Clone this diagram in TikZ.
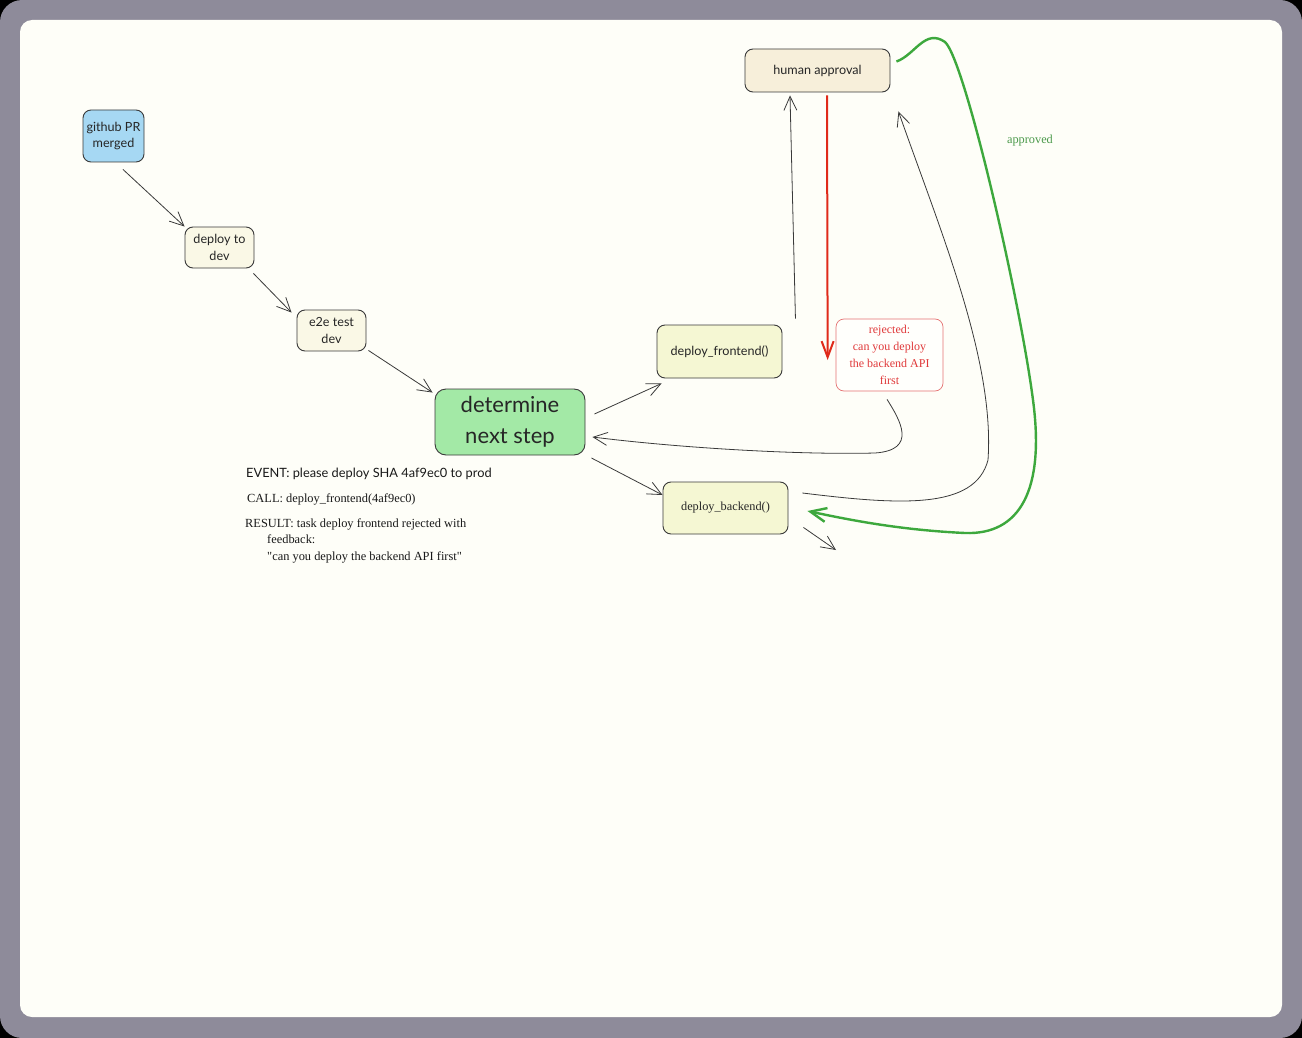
\documentclass[tikz,border=0pt]{standalone}
\usepackage{fontspec}
\setmainfont{Liberation Serif}
\newfontfamily\uisans{Lato}
\usetikzlibrary{arrows.meta,calc}

\definecolor{frame}{HTML}{8E8B9A}
\definecolor{panel}{HTML}{FEFEF8}
\definecolor{edge}{HTML}{3A3A3A}
\definecolor{ghfill}{HTML}{A6D8F3}
\definecolor{creamfill}{HTML}{FAF8E6}
\definecolor{detfill}{HTML}{A3E9A6}
\definecolor{fnfill}{HTML}{F5F7D3}
\definecolor{hafill}{HTML}{F7EFDA}
\definecolor{rejline}{HTML}{E57373}
\definecolor{rejtext}{HTML}{E0393A}
\definecolor{okgreen}{HTML}{3DA83D}
\definecolor{oktext}{HTML}{4C9A4C}
\definecolor{redline}{HTML}{E02A1A}

\newcommand{\straightq}{{\addfontfeature{Ligatures=TeXOff}"}}

\tikzset{
  box/.style={draw=edge, line width=0.9pt, rounded corners=8pt, align=center,
    inner sep=0pt, text=black!85},
  sanstxt/.style={font=\uisans\fontsize{12.6}{16.5}\selectfont},
  seriftxt/.style={font=\fontsize{12.3}{16.5}\selectfont},
  arr/.style={draw=edge, line width=0.8pt,
    -{Straight Barb[length=14pt,width=13pt,line width=0.8pt]}},
  note/.style={anchor=base west, inner sep=0pt, text=black!90},
}

\begin{document}
\begin{tikzpicture}[x=1pt,y=-1pt]
  % page frame and panel
  \fill[black] (0,0) rectangle (1302,1038);
  \fill[frame, rounded corners=22pt] (0,0) rectangle (1302,1038);
  \fill[panel, rounded corners=12pt] (20,20) rectangle (1282,1017);
  \useasboundingbox (0,0) rectangle (1302,1038);

  % nodes
  \node[box, sanstxt, fill=ghfill, minimum width=61pt, minimum height=52pt]
    (gh) at (113.5,136) {github PR\\merged};
  \node[box, sanstxt, fill=creamfill, minimum width=69pt, minimum height=41pt]
    (dev) at (219.5,247.5) {deploy to\\dev};
  \node[box, sanstxt, fill=creamfill, minimum width=69pt, minimum height=41pt]
    (e2e) at (331.5,330.5) {e2e test\\dev};
  \node[box, fill=detfill, rounded corners=11pt, minimum width=150pt, minimum height=66pt,
    font=\uisans\fontsize{22}{30.5}\selectfont]
    (det) at (510,422) {determine\\next step};
  \node[box, sanstxt, fill=fnfill, minimum width=125pt, minimum height=53pt]
    (fe) at (719.5,351.5) {deploy\_frontend()};
  \node[box, seriftxt, fill=fnfill, minimum width=125pt, minimum height=52pt]
    (be) at (725.5,508) {deploy\_backend()};
  \node[box, sanstxt, fill=hafill, minimum width=145pt, minimum height=43pt]
    (ha) at (817.5,70.5) {human approval};
  \node[box, draw=rejline, line width=0.7pt, fill=white!60!panel, text=rejtext,
    font=\fontsize{12}{16.8}\selectfont, minimum width=107pt, minimum height=72pt]
    (rej) at (889.5,355) {rejected:\\can you deploy\\the backend API\\first};
  \node[text=oktext, font=\fontsize{12.3}{14}\selectfont, inner sep=0pt]
    (okl) at (1030,141) {approved};

  % event log
  \node[note, font=\uisans\fontsize{12.8}{14}\selectfont] (ev) at (246,477)
    {EVENT: please deploy SHA 4af9ec0 to prod};
  \node[note, font=\fontsize{12.4}{14}\selectfont] (call) at (247,502)
    {CALL: deploy\_frontend(4af9ec0)};
  \node[note, font=\fontsize{12.4}{14}\selectfont] (res1) at (245,527)
    {RESULT: task deploy frontend rejected with};
  \node[note, font=\fontsize{12.4}{14}\selectfont] (res2) at (267,543)
    {feedback:};
  \node[note, font=\fontsize{12.4}{14}\selectfont] (res3) at (267,560)
    {\straightq can you deploy the backend API first\straightq};

  % pipeline
  \draw[arr] ($(gh.south)+(9.5,7)$) -- (dev.north west);
  \draw[arr] ($(dev.south east)+(-1,5)$) -- ($(e2e.north west)+(-5,3)$);
  \draw[arr] ($(e2e.south east)+(2,-1)$) -- ($(det.north west)+(-2,4)$);
  \draw[arr] ($(det.east)+(9,-8)$) -- ($(fe.south west)+(5,5)$);
  \draw[arr] ($(det.east)+(6,36)$) -- ($(be.west)+(0,-13)$);

  % rejection feedback back to the planner
  \draw[arr] ($(rej.south)+(-2.5,8)$)
    .. controls (900,420) and (918,450) .. (875,453)
    .. controls (800,455) and (680,448) .. ($(det.east)+(7,15)$);

  % approval requests
  \draw[arr] ($(fe.north east)+(13,-6)$) -- ($(ha.south)+(-27.5,3)$);
  \draw[arr] ($(be.east)+(14,-15)$)
    .. controls (900,505) and (975,510) .. (988,460)
    .. controls (995,360) and (940,230) .. ($(ha.south east)+(8,19)$);

  % rejected decision
  \draw[draw=redline, line width=2pt,
    -{Straight Barb[length=16pt,width=12pt,line width=2pt]}]
    ($(ha.south)+(9.5,3)$) -- ($(rej.west)+(-8,5)$);

  % approved decision
  \draw[draw=okgreen, line width=2.4pt,
    -{Straight Barb[length=16pt,width=14pt,line width=2.4pt]}]
    ($(ha.east)+(6,-9)$)
    .. controls (915,55) and (925,28) .. (945,42)
    .. controls (965,60) and (1020,300) .. (1033,400)
    .. controls (1045,490) and (1020,535) .. (965,533)
    .. controls (900,530) and (850,520) .. ($(be.east)+(19,3)$);

  % outgoing step from the backend deploy
  \coordinate (beout) at (836,550);
  \draw[arr] ($(be.south east)+(15,-7)$) -- (beout);
\end{tikzpicture}
\end{document}
